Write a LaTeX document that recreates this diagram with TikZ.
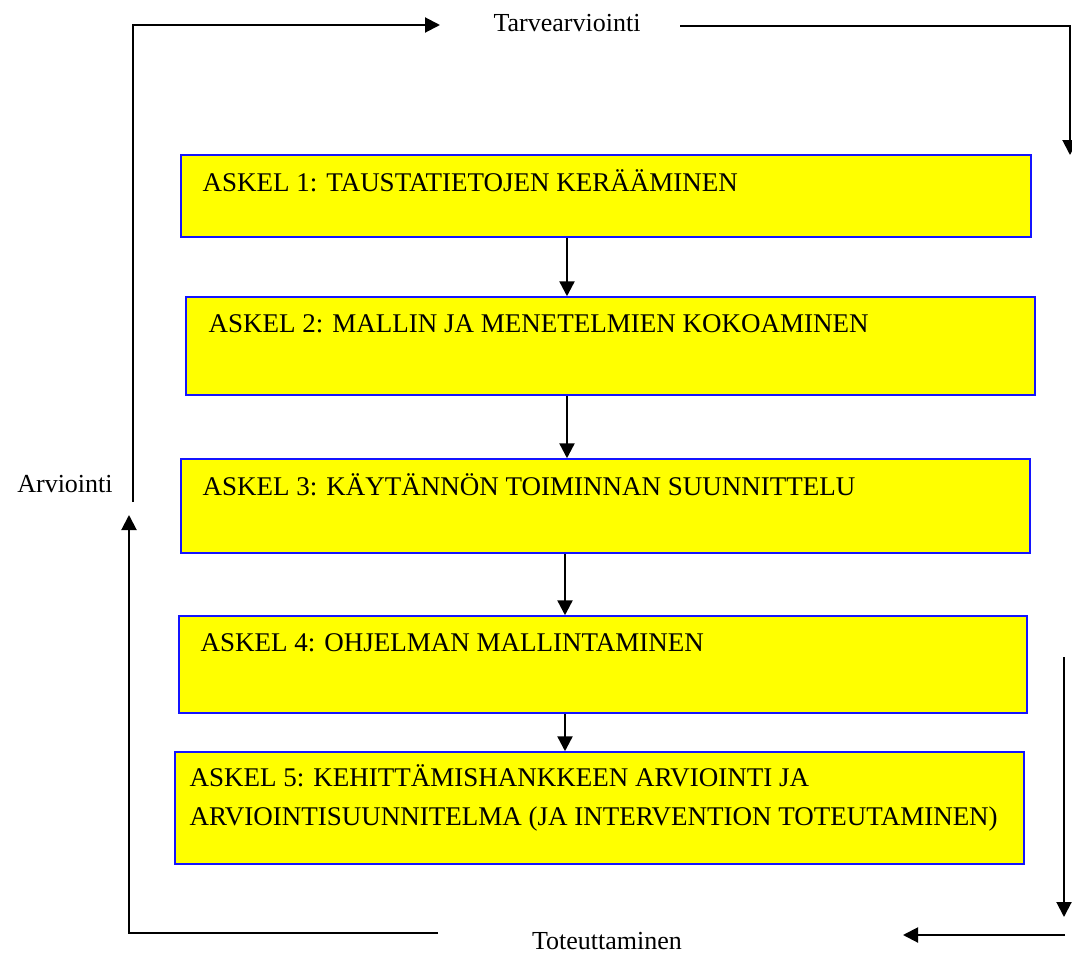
\documentclass[tikz,border=0pt]{standalone}
\usepackage{fontspec}
\setmainfont{Liberation Serif}
\usepackage{tikz}
\usetikzlibrary{arrows.meta}
\usetikzlibrary{positioning}
\definecolor{stepfill}{RGB}{255, 255, 0}
\definecolor{stepline}{RGB}{20, 20, 255}

\begin{document}
\begin{tikzpicture}[
  every node/.style={font=\fontsize{13pt}{19.5pt}\selectfont},
  stepbox/.style={rectangle, fill=stepfill, draw=stepline, line width=0.75pt, inner sep=0pt},
  steptext/.style={anchor=base west, inner sep=0pt, align=left, font=\fontsize{13.5pt}{19.5pt}\selectfont},
  looptext/.style={anchor=base, inner sep=0pt},
  steparrow/.style={line width=1.2pt, -{Triangle[length=7.5pt, width=7.5pt]}},
  looparrow/.style={line width=1pt, -{Triangle[length=7.5pt, width=7.5pt]}}]
\useasboundingbox (0pt, 0pt) rectangle (536pt, -476.5pt);
% steps
\node (s1) [stepbox, minimum width=425pt, minimum height=41pt] at (303.0pt, -98.0pt) {};
\node (s2) [stepbox, minimum width=424.5pt, minimum height=49pt] at (305.25pt, -173.0pt) {};
\node (s3) [stepbox, minimum width=424.5pt, minimum height=47pt] at (302.75pt, -253.0pt) {};
\node (s4) [stepbox, minimum width=424pt, minimum height=48.5pt] at (301.5pt, -332.25pt) {};
\node (s5) [stepbox, minimum width=424.5pt, minimum height=56pt] at (299.75pt, -404.0pt) {};
\node (t1) [steptext] at ([shift={(11pt, -18.5pt)}]s1.north west) {ASKEL 1: TAUSTATIETOJEN KERÄÄMINEN};
\node (t2) [steptext] at ([shift={(11.5pt, -18pt)}]s2.north west) {ASKEL 2: MALLIN JA MENETELMIEN KOKOAMINEN};
\node (t3) [steptext] at ([shift={(11pt, -18.5pt)}]s3.north west) {ASKEL 3: KÄYTÄNNÖN TOIMINNAN SUUNNITTELU};
\node (t4) [steptext] at ([shift={(11pt, -18pt)}]s4.north west) {ASKEL 4: OHJELMAN MALLINTAMINEN};
\node (t5) [steptext] at ([shift={(7.5pt, -37pt)}]s5.north west) {ASKEL 5: KEHITTÄMISHANKKEEN ARVIOINTI JA\\ARVIOINTISUUNNITELMA (JA INTERVENTION TOTEUTAMINEN)};
\draw [steparrow] ([xshift=-19.5pt]s1.south) -- ([xshift=-21.75pt]s2.north);
\draw [steparrow] ([xshift=-21.75pt]s2.south) -- ([xshift=-19.25pt]s3.north);
\draw [steparrow] ([xshift=-20.25pt]s3.south) -- ([xshift=-19pt]s4.north);
\draw [steparrow] ([xshift=-19pt]s4.south) -- ([xshift=-17.25pt]s5.north);
% loop round the steps
\node (tarve) [looptext] at (283.5pt, -16.0pt) {Tarvearviointi};
\node (arvio) [looptext] at (32.5pt, -246.0pt) {Arviointi};
\node (tote) [looptext] at (303.5pt, -474.5pt) {Toteuttaminen};
\coordinate (ltop) at (66.5pt, -251.0pt);
\coordinate (ltip) at (220.0pt, -12.5pt);
\coordinate (rtop) at (340.0pt, -13.0pt);
\coordinate (rtip) at (535.0pt, -77.5pt);
\coordinate (rlow) at (532.0pt, -328.5pt);
\coordinate (rlowtip) at (532.0pt, -458.5pt);
\coordinate (bright) at (532.5pt, -467.5pt);
\coordinate (brighttip) at (451.5pt, -467.5pt);
\coordinate (bleft) at (219.0pt, -466.5pt);
\coordinate (blefttip) at (64.5pt, -257.5pt);
\draw [looparrow] (ltop) |- (ltip);
\draw [looparrow] (rtop) -| (rtip);
\draw [looparrow] (rlow) -- (rlowtip);
\draw [looparrow] (bright) -- (brighttip);
\draw [looparrow] (bleft) -| (blefttip);
\end{tikzpicture}
\end{document}
